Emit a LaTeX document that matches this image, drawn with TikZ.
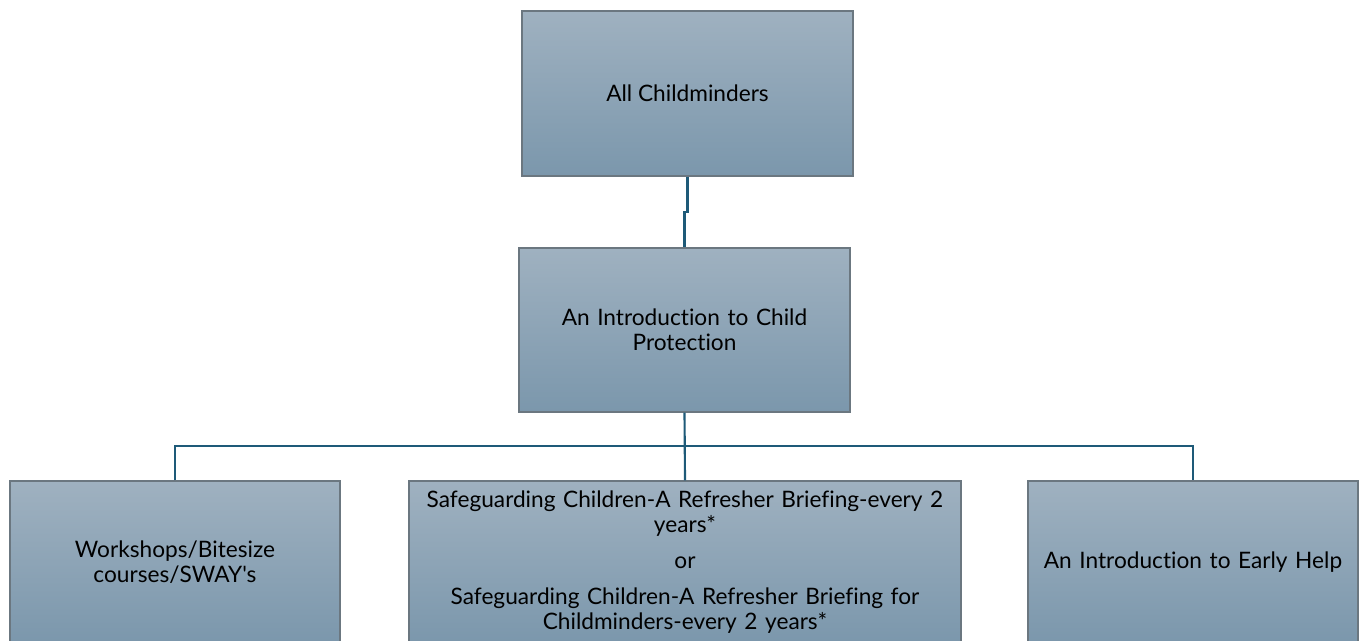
\documentclass[tikz,border=0pt]{standalone}
\usepackage{fontspec}
\newfontfamily\boxff{Lato}[Ligatures=NoCommon]
\definecolor{boxtop}{HTML}{9FB1C0}
\definecolor{boxbot}{HTML}{7B97AC}
\definecolor{boxline}{HTML}{6B7780}
\definecolor{connc}{HTML}{1E5A78}
\newcommand{\boxfont}{\boxff\fontsize{17}{19}\selectfont}
\begin{document}
\begin{tikzpicture}[x=0.75pt,y=-0.75pt,
  box/.style={draw=boxline, line width=0.8pt, top color=boxtop, bottom color=boxbot,
    align=center, inner sep=0pt, font=\boxfont, text=black},
  conn/.style={draw=connc, line width=1.6pt}]
\clip (0,0) rectangle (1362,641);
\fill[white] (0,0) rectangle (1362,641);
\node[box, minimum width=248.25pt, minimum height=123.75pt] (top) at (687.5,93.5) {All Childminders};
\node[box, minimum width=248.25pt, minimum height=123pt, text width=230pt] (mid) at (684.5,330) {An Introduction to Child\\Protection};
\node[box, minimum width=247.5pt, minimum height=121.5pt, text width=230pt] (bl) at (175,562) {Workshops/Bitesize\\courses/SWAY's};
\node[box, minimum width=414pt, minimum height=121.5pt, text width=405pt] (bm) at (685,562) {Safeguarding Children-A Refresher Briefing-every 2\\years*\\[8pt]or\\[8pt]Safeguarding Children-A Refresher Briefing for\\Childminders-every 2 years*};
\node[box, minimum width=247.5pt, minimum height=121.5pt, text width=240pt] (br) at (1193,562) {An Introduction to Early Help};
\coordinate (j1) at (687.5,212);
\coordinate (j2) at (684.5,212);
\coordinate (bus) at (684.5,446);
\draw[conn] (top.south) -- (j1) -- (j2) -- (mid.north);
\draw[conn] (mid.south) -- (bm.north);
\draw[conn] (bl.north) |- (bus) -| (br.north);
\end{tikzpicture}
\end{document}
